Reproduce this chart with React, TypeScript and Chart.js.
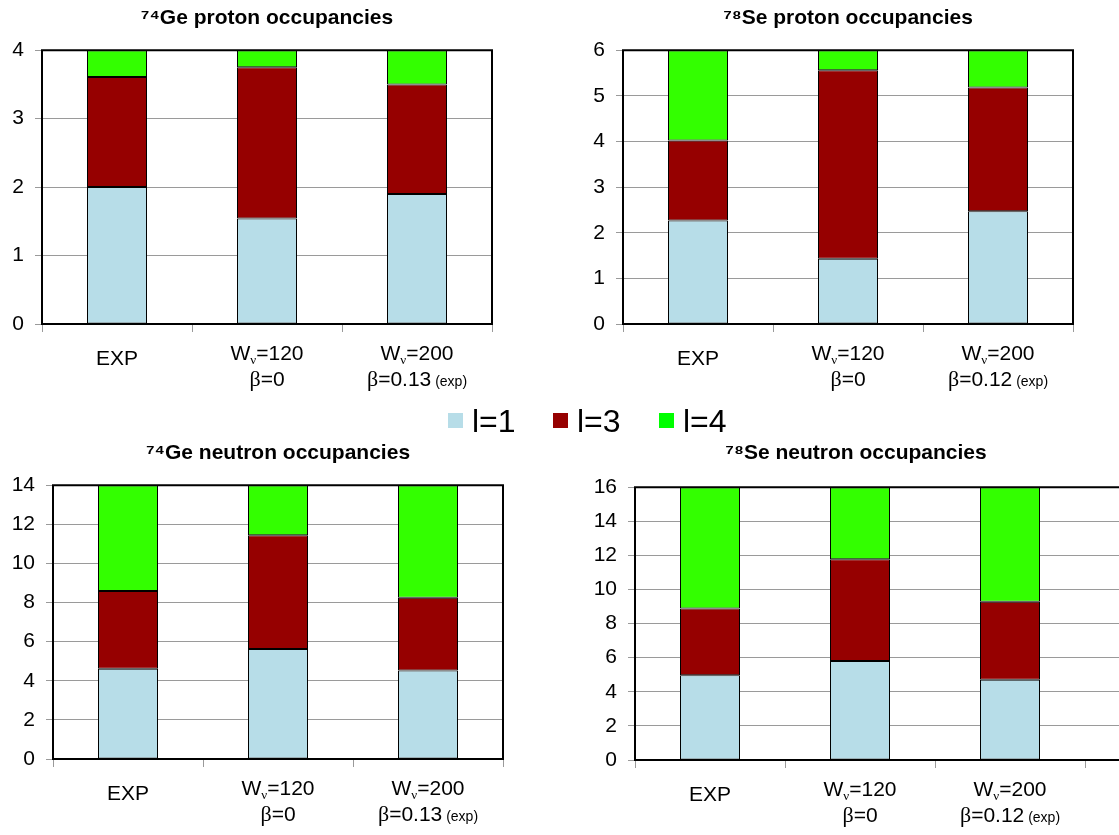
import React, { useEffect, useRef } from "react";
import { Chart, registerables } from "chart.js";

Chart.register(...registerables);

// ---------- data ----------
const SERIES_NAMES = ["l=1", "l=3", "l=4"];
const SERIES_COLORS = ["#B7DDE8", "#960000", "#33FF00"];

const geXLabels = [["EXP"], ["Wν=120", "β=0"], ["Wν=200", "β=0.13 (exp)"]];
const seXLabels = [["EXP"], ["Wν=120", "β=0"], ["Wν=200", "β=0.12 (exp)"]];

const geProtonL1 = [2.0, 1.54, 1.9];
const geProtonL3 = [1.61, 2.21, 1.6];
const geProtonL4 = [0.39, 0.25, 0.5];

const seProtonL1 = [2.27, 1.43, 2.47];
const seProtonL3 = [1.75, 4.13, 2.71];
const seProtonL4 = [1.98, 0.44, 0.82];

const geNeutronL1 = [4.61, 5.62, 4.52];
const geNeutronL3 = [3.98, 5.82, 3.73];
const geNeutronL4 = [5.41, 2.56, 5.75];

const seNeutronL1 = [4.97, 5.81, 4.7];
const seNeutronL3 = [3.92, 5.96, 4.58];
const seNeutronL4 = [7.11, 4.23, 6.72];

const geProtonTitle = "⁷⁴Ge proton occupancies";
const seProtonTitle = "⁷⁸Se proton occupancies";
const geNeutronTitle = "⁷⁴Ge neutron occupancies";
const seNeutronTitle = "⁷⁸Se neutron occupancies";

// ---------- styling ----------
const SANS = "'Liberation Sans', Arial, sans-serif";
const SERIF = "'Liberation Serif', 'Times New Roman', serif";

type Layout = {
  left: number; top: number; width: number; height: number;
  yW: number; xH: number; padRight: number; tTop: number; tBottom: number;
  xMax: number; rightBorder: boolean; titleFull: boolean;
};

type PanelDef = {
  title: string; l1: number[]; l3: number[]; l4: number[];
  yMax: number; yStep: number; xLabels: string[][]; layout: Layout;
};

const panels: PanelDef[] = [
  {
    title: geProtonTitle, l1: geProtonL1, l3: geProtonL3, l4: geProtonL4,
    yMax: 4, yStep: 1, xLabels: geXLabels,
    layout: { left: 0, top: 0, width: 530, height: 400, yW: 42, xH: 76, padRight: 38, tTop: 6, tBottom: 19, xMax: 2.5, rightBorder: true, titleFull: false },
  },
  {
    title: seProtonTitle, l1: seProtonL1, l3: seProtonL3, l4: seProtonL4,
    yMax: 6, yStep: 1, xLabels: seXLabels,
    layout: { left: 560, top: 0, width: 559, height: 400, yW: 63, xH: 76, padRight: 46, tTop: 6, tBottom: 19, xMax: 2.5, rightBorder: true, titleFull: false },
  },
  {
    title: geNeutronTitle, l1: geNeutronL1, l3: geNeutronL3, l4: geNeutronL4,
    yMax: 14, yStep: 2, xLabels: geXLabels,
    layout: { left: 0, top: 400, width: 551, height: 435, yW: 53, xH: 76, padRight: 48, tTop: 41, tBottom: 19, xMax: 2.5, rightBorder: true, titleFull: false },
  },
  {
    title: seNeutronTitle, l1: seNeutronL1, l3: seNeutronL3, l4: seNeutronL4,
    yMax: 16, yStep: 2, xLabels: seXLabels,
    layout: { left: 593, top: 400, width: 526, height: 435, yW: 42, xH: 75, padRight: 0, tTop: 41, tBottom: 21, xMax: -0.5 + 484 / 150, rightBorder: false, titleFull: true },
  },
];

// ---------- plugins ----------
function drawRich(ctx: CanvasRenderingContext2D, line: string, cx: number, baseY: number) {
  const parts = line.split(/(ν|β| \(exp\))/).filter((p) => p.length > 0);
  const segs = parts.map((p) => {
    if (p === "ν") return { t: p, font: `13px ${SERIF}`, dy: 4 };
    if (p === "β") return { t: p, font: `22px ${SERIF}`, dy: 0 };
    if (p === " (exp)") return { t: p, font: `14px ${SANS}`, dy: 0 };
    return { t: p, font: `21px ${SANS}`, dy: 0 };
  });
  let total = 0;
  const widths = segs.map((s) => {
    ctx.font = s.font;
    const w = ctx.measureText(s.t).width;
    total += w;
    return w;
  });
  let x = cx - total / 2;
  ctx.fillStyle = "#000";
  ctx.textAlign = "left";
  ctx.textBaseline = "alphabetic";
  segs.forEach((s, i) => {
    ctx.font = s.font;
    ctx.fillText(s.t, x, baseY + s.dy);
    x += widths[i];
  });
}

const richLabels = {
  id: "richLabels",
  afterDraw(chart: any, _args: any, opts: any) {
    const ctx = chart.ctx as CanvasRenderingContext2D;
    const xs = chart.scales.x;
    const bottom = chart.chartArea.bottom;
    ctx.save();
    (opts.labels as string[][]).forEach((lines, i) => {
      const cx = xs.getPixelForValue(i);
      lines.forEach((line, li) => {
        const y = lines.length === 1 ? bottom + 41 : bottom + 35.5 + li * 26.5;
        drawRich(ctx, line, cx, y);
      });
    });
    ctx.restore();
  },
};

const plotFrame = {
  id: "plotFrame",
  afterDatasetsDraw(chart: any, _args: any, opts: any) {
    const ctx = chart.ctx as CanvasRenderingContext2D;
    const { left, right, top, bottom } = chart.chartArea;
    ctx.save();
    ctx.strokeStyle = "#000";
    ctx.lineWidth = 2;
    ctx.beginPath();
    if (opts.rightBorder) {
      ctx.rect(left, top, right - left, bottom - top);
    } else {
      ctx.moveTo(chart.width + 2, top);
      ctx.lineTo(left, top);
      ctx.lineTo(left, bottom);
      ctx.lineTo(chart.width + 2, bottom);
    }
    ctx.stroke();
    ctx.restore();
  },
};

// ---------- component ----------
function Panel({ def }: { def: PanelDef }) {
  const ref = useRef<HTMLCanvasElement | null>(null);
  useEffect(() => {
    if (!ref.current) return;
    const L = def.layout;
    const seriesValues = [def.l1, def.l3, def.l4];
    const n = def.xLabels.length;
    const boundaries: number[] = [];
    for (let i = 0; i <= n; i++) boundaries.push(i - 0.5);
    const chart = new Chart(ref.current, {
      type: "bar",
      data: {
        datasets: seriesValues.map((vals, k) => ({
          label: SERIES_NAMES[k],
          data: vals.map((v, i) => ({ x: i, y: v })),
          backgroundColor: SERIES_COLORS[k],
          borderColor: "#000",
          borderWidth: 1,
          borderSkipped: false,
          barPercentage: 0.4,
          categoryPercentage: 1,
        })),
      },
      options: {
        responsive: false,
        animation: false,
        devicePixelRatio: 1,
        layout: { padding: { left: 0, right: L.padRight, top: 0, bottom: 0 } },
        plugins: {
          legend: { display: false },
          tooltip: { enabled: false },
          title: {
            display: true,
            text: def.title,
            color: "#000",
            fullSize: L.titleFull,
            font: { family: SANS, size: 21, weight: "bold" },
            padding: { top: L.tTop, bottom: L.tBottom },
          },
          richLabels: { labels: def.xLabels },
          plotFrame: { rightBorder: L.rightBorder },
        } as any,
        scales: {
          x: {
            type: "linear",
            stacked: true,
            offset: false,
            min: -0.5,
            max: L.xMax,
            afterBuildTicks: (scale: any) => {
              scale.ticks = boundaries.map((v) => ({ value: v }));
            },
            afterFit: (scale: any) => {
              scale.height = L.xH;
            },
            ticks: { display: false },
            grid: { display: true, offset: false, drawOnChartArea: false, drawTicks: true, tickLength: 8, color: "#9a9a9a", lineWidth: 1 },
            border: { display: false },
          },
          y: {
            type: "linear",
            stacked: true,
            min: 0,
            max: def.yMax,
            afterFit: (scale: any) => {
              scale.width = L.yW;
            },
            ticks: {
              stepSize: def.yStep,
              color: "#000",
              padding: 11,
              font: { family: SANS, size: 21 },
            },
            grid: { color: "#9a9a9a", lineWidth: 1, tickLength: 7, drawTicks: true },
            border: { display: false },
          },
        },
      } as any,
      plugins: [richLabels, plotFrame],
    });
    return () => chart.destroy();
  }, [def]);
  const L = def.layout;
  return (
    <canvas
      ref={ref}
      width={L.width}
      height={L.height}
      style={{ position: "absolute", left: L.left, top: L.top, width: L.width, height: L.height }}
    />
  );
}

function Legend() {
  const xs = [448, 553, 659];
  return (
    <>
      {SERIES_NAMES.map((name, i) => (
        <React.Fragment key={name}>
          <div
            style={{
              position: "absolute",
              left: xs[i],
              top: 413,
              width: 15,
              height: 15,
              background: i === 2 ? "#00FF00" : SERIES_COLORS[i],
            }}
          />
          <div
            style={{
              position: "absolute",
              left: xs[i] + 24,
              top: 405,
              fontFamily: SANS,
              fontSize: 32,
              lineHeight: "32px",
              color: "#000",
              whiteSpace: "nowrap",
            }}
          >
            {name}
          </div>
        </React.Fragment>
      ))}
    </>
  );
}

export default function App() {
  return (
    <div style={{ position: "absolute", left: 0, top: 0, width: 1119, height: 835, overflow: "hidden", background: "#fff" }}>
      {panels.map((p) => (
        <Panel key={p.title} def={p} />
      ))}
      <Legend />
    </div>
  );
}
